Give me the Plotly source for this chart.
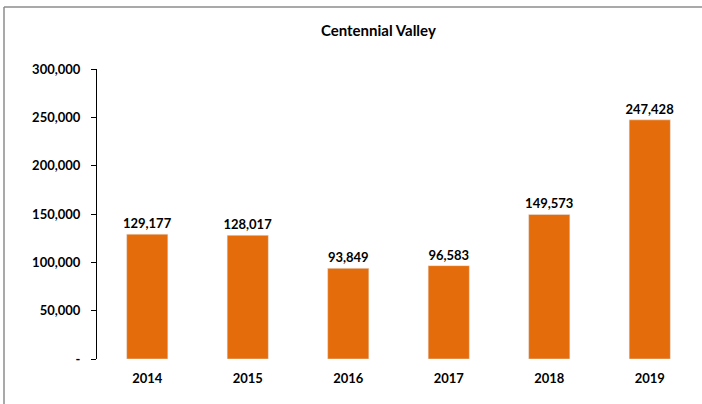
import plotly.graph_objects as go

years = ["2014", "2015", "2016", "2017", "2018", "2019"]
visitors = [129177, 128017, 93849, 96583, 149573, 247428]
tick_vals = [0, 50000, 100000, 150000, 200000, 250000, 300000]
tick_text = ["-", "50,000", "100,000", "150,000", "200,000", "250,000", "300,000"]

bar_color = "#E46C0A"
font_family = "Lato, 'Open Sans', sans-serif"

fig = go.Figure(go.Bar(
    x=years,
    y=visitors,
    marker_color=bar_color,
    text=[f"{v:,}" for v in visitors],
    textposition="outside",
    constraintext="none",
    textfont=dict(size=13, color="black", family=font_family, weight="bold"),
    cliponaxis=False,
))

fig.update_layout(
    width=702,
    height=404,
    margin=dict(l=97, r=2, t=69, b=45),
    paper_bgcolor="white",
    plot_bgcolor="white",
    font=dict(family=font_family, color="black"),
    bargap=0.59,
    showlegend=False,
    title=dict(
        text="<b>Centennial Valley</b>",
        x=0.539, xanchor="center",
        y=1 - 31 / 404, yanchor="middle",
        yref="container",
        font=dict(size=15, family=font_family, color="black"),
    ),
    xaxis=dict(
        type="category",
        showline=False,
        showgrid=False,
        ticks="",
        tickfont=dict(size=13, family=font_family, weight="bold"),
        ticklabelstandoff=10,
    ),
    yaxis=dict(
        range=[0, 300000],
        tickmode="array",
        tickvals=tick_vals,
        ticktext=tick_text,
        showline=True,
        linecolor="black",
        linewidth=1,
        ticks="outside",
        ticklen=5,
        tickcolor="black",
        showgrid=False,
        zeroline=False,
        tickfont=dict(size=13, family=font_family, weight="bold"),
        ticklabelstandoff=8,
    ),
)

# thin frame lines at top and left of the chart area
fig.add_shape(type="line", xref="paper", yref="paper",
              x0=(4 - 97) / 603, x1=(702 - 97) / 603,
              y0=1 + (69 - 7) / 290, y1=1 + (69 - 7) / 290,
              line=dict(color="#8c8c8c", width=1.5))
fig.add_shape(type="line", xref="paper", yref="paper",
              x0=(4 - 97) / 603, x1=(4 - 97) / 603,
              y0=1 + (69 - 7) / 290, y1=-45 / 290,
              line=dict(color="#8c8c8c", width=1.5))

fig.write_html("out.html", config={"displayModeBar": False},
               post_script="document.body.style.margin='0';")
